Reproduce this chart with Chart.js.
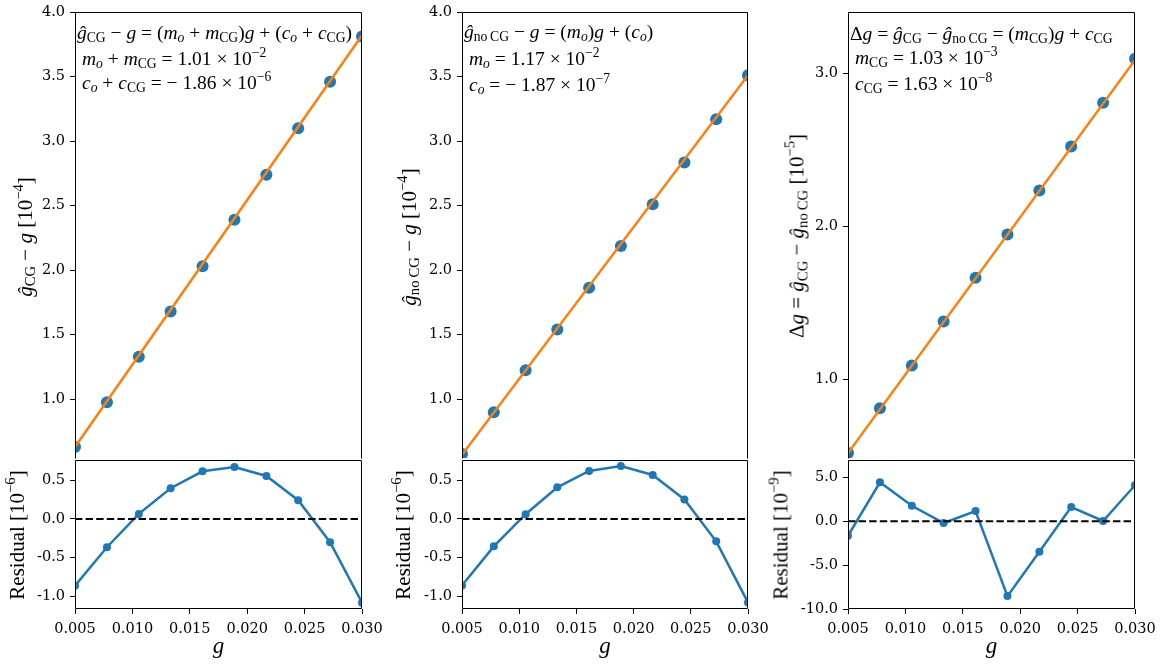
<!DOCTYPE html>
<html>
<head>
<meta charset="utf-8">
<script src="https://cdn.jsdelivr.net/npm/chart.js@4.4.1/dist/chart.umd.min.js"></script>
<style>
    body { margin: 0; background: #fff; width: 1162px; height: 665px; position: relative; overflow: hidden; }
    canvas { position: absolute; }
    .m { position: absolute; font-family: "Liberation Serif", serif; font-size: 19.5px; white-space: nowrap; color: #000; line-height: 1; }
    .rot { transform: translate(-50%, -50%) rotate(-90deg); }
    sub, sup { font-size: 70%; line-height: 0; }
    sub { vertical-align: -0.25em; }
    sup { vertical-align: 0.6em; }
</style>
</head>
<body>
<script>
// g values (x axis)
const gValues = [0.005, 0.00778, 0.01056, 0.01333, 0.01611, 0.01889, 0.02167, 0.02444, 0.02722, 0.030];
const fitX = [0.005, 0.030];

// top panels, units of 1e-4 / 1e-5
const dgCG = [0.63, 0.977, 1.33, 1.68, 2.03, 2.39, 2.74, 3.10, 3.46, 3.81];
const fitCG = [0.63, 3.82];
const dgNoCG = [0.576, 0.90, 1.224, 1.54, 1.864, 2.187, 2.51, 2.835, 3.17, 3.51];
const fitNoCG = [0.57, 3.51];
const deltaG = [0.518, 0.811, 1.091, 1.378, 1.664, 1.948, 2.235, 2.524, 2.81, 3.098];
const fitDelta = [0.517, 3.09];

// residuals, units of 1e-6 / 1e-9
const residCG = [-0.863, -0.366, 0.065, 0.397, 0.616, 0.67, 0.556, 0.242, -0.302, -1.083];
const residNoCG = [-0.86, -0.355, 0.061, 0.408, 0.62, 0.685, 0.568, 0.252, -0.29, -1.082];
const residDelta = [-1.65, 4.46, 1.78, -0.19, 1.18, -8.53, -3.47, 1.63, 0.04, 4.12];
const zeroY = [0, 0];

// tick labels
const gTicks = [0.005, 0.010, 0.015, 0.020, 0.025, 0.030];
const mainTicks = [1.0, 1.5, 2.0, 2.5, 3.0, 3.5, 4.0];
const deltaTicks = [1.0, 2.0, 3.0];
const residTicks = [-1.0, -0.5, 0.0, 0.5];
const residDeltaTicks = [-10.0, -5.0, 0.0, 5.0];

const BLUE = '#1f77b4';
const ORANGE = '#ff7f0e';
const tickFont = { family: 'DejaVu Serif', size: 14.5 };

const toPts = (xs, ys) => xs.map((x, i) => ({ x: x, y: ys[i] }));

// black box round the plot area, like matplotlib spines
// (top panels leave the bottom edge to the residual panel under them)
const framePlugin = {
    id: 'frame',
    afterDatasetsDraw(chart, args, opts) {
        const a = chart.chartArea, ctx = chart.ctx;
        const l = Math.round(a.left) + 0.5, r = Math.round(a.right) - 0.5;
        const t = Math.round(a.top) + 0.5, b = Math.round(a.bottom) - 0.5;
        ctx.save();
        ctx.strokeStyle = '#000';
        ctx.lineWidth = 1;
        ctx.beginPath();
        if (opts.bottom) {
            ctx.moveTo(l, b); ctx.lineTo(l, t); ctx.lineTo(r, t); ctx.lineTo(r, b); ctx.closePath();
        } else {
            ctx.moveTo(l, b + 1); ctx.lineTo(l, t); ctx.lineTo(r, t); ctx.lineTo(r, b + 1);
        }
        ctx.stroke();
        ctx.restore();
    }
};

function panel(box, datasets, yMin, yMax, yTicks, showX) {
    const L = 70, R = 30, T = showX ? 10 : box.top;
    const B = showX ? 665 - box.bottom : 4;
    const w = box.right - box.left + L + R;
    const h = box.bottom - box.top + T + B;
    const c = document.createElement('canvas');
    c.style.left = (box.left - L) + 'px';
    c.style.top = (box.top - T) + 'px';
    c.style.width = w + 'px';
    c.style.height = h + 'px';
    document.body.appendChild(c);

    const grid = { drawOnChartArea: false, drawTicks: true, tickLength: 5, tickColor: '#000', tickWidth: 1 };

    new Chart(c, {
        type: 'scatter',
        data: { datasets: datasets },
        options: {
            responsive: false,
            animation: false,
            layout: { padding: { top: T, right: R, left: 0, bottom: showX ? 0 : B } },
            plugins: { legend: { display: false }, tooltip: { enabled: false }, frame: { bottom: showX } },
            scales: {
                x: {
                    type: 'linear',
                    min: 0.005,
                    max: 0.030,
                    display: showX,
                    afterBuildTicks: s => { s.ticks = gTicks.map(v => ({ value: v })); },
                    ticks: { callback: v => v.toFixed(3), font: tickFont, color: '#000', maxRotation: 0, autoSkip: false, padding: 7 },
                    grid: grid,
                    border: { display: false },
                    title: { display: true, text: 'g', color: '#000', font: { family: 'Liberation Serif', style: 'italic', size: 23 }, padding: { top: 0, bottom: 4 } },
                    afterFit: s => { if (showX) { s.height = B; } s.paddingLeft = 0; s.paddingRight = 0; }
                },
                y: {
                    type: 'linear',
                    min: yMin,
                    max: yMax,
                    afterBuildTicks: s => { s.ticks = yTicks.map(v => ({ value: v })); },
                    ticks: { callback: v => v.toFixed(1), font: tickFont, color: '#000', padding: 5 },
                    grid: grid,
                    border: { display: false },
                    afterFit: s => { s.width = L; s.paddingTop = 0; s.paddingBottom = 0; }
                }
            }
        },
        plugins: [framePlugin]
    });
}

function mainSets(ys, fitYs) {
    return [
        { data: toPts(fitX, fitYs), showLine: true, borderColor: ORANGE, borderWidth: 2.5, pointRadius: 0, clip: 0 },
        { data: toPts(gValues, ys), backgroundColor: BLUE, borderWidth: 0, pointRadius: 6, clip: 0 }
    ];
}

function residSets(ys) {
    return [
        { data: toPts(fitX, zeroY), showLine: true, borderColor: '#000', borderWidth: 2, borderDash: [7.4, 3.2], pointRadius: 0, clip: 0 },
        { data: toPts(gValues, ys), showLine: true, borderColor: BLUE, borderWidth: 2.5, backgroundColor: BLUE, pointRadius: 4, pointBorderWidth: 0, clip: 0 }
    ];
}

const cols = [{ left: 75, right: 362 }, { left: 462, right: 748 }, { left: 848, right: 1135 }];
const mainTop = 12, split = 460, residBottom = 609;

panel({ left: cols[0].left, right: cols[0].right, top: mainTop, bottom: split }, mainSets(dgCG, fitCG), 0.545, 4.0, mainTicks, false);
panel({ left: cols[1].left, right: cols[1].right, top: mainTop, bottom: split }, mainSets(dgNoCG, fitNoCG), 0.545, 4.0, mainTicks, false);
panel({ left: cols[2].left, right: cols[2].right, top: mainTop, bottom: split }, mainSets(deltaG, fitDelta), 0.485, 3.404, deltaTicks, false);

panel({ left: cols[0].left, right: cols[0].right, top: split, bottom: residBottom }, residSets(residCG), -1.165, 0.762, residTicks, true);
panel({ left: cols[1].left, right: cols[1].right, top: split, bottom: residBottom }, residSets(residNoCG), -1.165, 0.762, residTicks, true);
panel({ left: cols[2].left, right: cols[2].right, top: split, bottom: residBottom }, residSets(residDelta), -10.0, 7.0, residDeltaTicks, true);

// math text: annotations and axis labels
const G = '<i>ĝ</i>', NOCG = '<sub>no&thinsp;CG</sub>', CG = '<sub>CG</sub>', O = '<sub><i>o</i></sub>';
const notes = [
    [77, 34, G + CG + ' − <i>g</i> = (<i>m</i>' + O + ' + <i>m</i>' + CG + ')<i>g</i> + (<i>c</i>' + O + ' + <i>c</i>' + CG + ')'],
    [82, 60, '<i>m</i>' + O + ' + <i>m</i>' + CG + ' = 1.01 × 10<sup>−2</sup>'],
    [82, 84, '<i>c</i>' + O + ' + <i>c</i>' + CG + ' = − 1.86 × 10<sup>−6</sup>'],
    [464, 33, G + NOCG + ' − <i>g</i> = (<i>m</i>' + O + ')<i>g</i> + (<i>c</i>' + O + ')'],
    [469, 60, '<i>m</i>' + O + ' = 1.17 × 10<sup>−2</sup>'],
    [469, 86, '<i>c</i>' + O + ' = − 1.87 × 10<sup>−7</sup>'],
    [850, 35, 'Δ<i>g</i> = ' + G + CG + ' − ' + G + NOCG + ' = (<i>m</i>' + CG + ')<i>g</i> + <i>c</i>' + CG],
    [855, 59, '<i>m</i>' + CG + ' = 1.03 × 10<sup>−3</sup>'],
    [855, 85, '<i>c</i>' + CG + ' = 1.63 × 10<sup>−8</sup>']
];
notes.forEach(n => {
    const d = document.createElement('div');
    d.className = 'm';
    d.style.left = n[0] + 'px';
    d.style.top = (n[1] - 11) + 'px';
    d.innerHTML = n[2];
    document.body.appendChild(d);
});

const yLabels = [
    [25, 237, G + CG + ' − <i>g</i> [10<sup>−4</sup>]'],
    [409, 237, G + NOCG + ' − <i>g</i> [10<sup>−4</sup>]'],
    [797, 236, 'Δ<i>g</i> = ' + G + CG + ' − ' + G + NOCG + ' [10<sup>−5</sup>]'],
    [17, 535, 'Residual [10<sup>−6</sup>]'],
    [403, 535, 'Residual [10<sup>−6</sup>]'],
    [781, 535, 'Residual [10<sup>−9</sup>]']
];
yLabels.forEach(n => {
    const d = document.createElement('div');
    d.className = 'm rot';
    d.style.left = n[0] + 'px';
    d.style.top = n[1] + 'px';
    d.style.fontSize = '21px';
    d.innerHTML = n[2];
    document.body.appendChild(d);
});
</script>
</body>
</html>
